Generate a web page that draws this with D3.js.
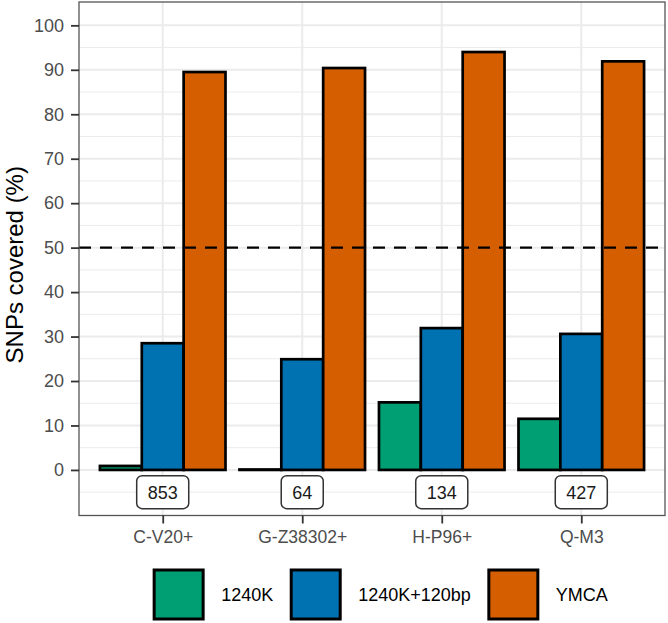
<!DOCTYPE html>
<html>
<head>
<meta charset="utf-8">
<script src="https://cdn.jsdelivr.net/npm/d3@7"></script>
<style>
  html, body { margin: 0; padding: 0; background: #fff; }
  svg { display: block; font-family: "Liberation Sans", Arial, sans-serif; }
</style>
</head>
<body>
<svg id="chart" width="668" height="623"></svg>
<script>
const categories = ["C-V20+", "G-Z38302+", "H-P96+", "Q-M3"];
const seriesNames = ["1240K", "1240K+120bp", "YMCA"];
const values1240K = [0.9, 0.1, 15.2, 11.5];
const values1240K120 = [28.5, 24.9, 31.9, 30.6];
const valuesYMCA = [89.5, 90.4, 94.0, 91.9];
const sampleCounts = [853, 64, 134, 427];
const yTicks = [0, 10, 20, 30, 40, 50, 60, 70, 80, 90, 100];
const yMinorTicks = [-5, 5, 15, 25, 35, 45, 55, 65, 75, 85, 95];
const threshold = 50;
const colors = ["#009E73", "#0072B2", "#D55E00"];

const seriesValues = [values1240K, values1240K120, valuesYMCA];

const svg = d3.select("#chart");
const panel = { left: 79, right: 665, top: 2, bottom: 515.5 };

const y = d3.scaleLinear().domain([-10.25, 105.25]).range([panel.bottom, panel.top]);
const x = d3.scalePoint().domain(categories).range([panel.left, panel.right]).padding(0.6);
const step = x.step();
const xs = d3.scaleBand().domain(seriesNames).range([-0.45 * step, 0.45 * step]).padding(0);
const color = d3.scaleOrdinal().domain(seriesNames).range(colors);

// panel background
svg.append("rect").attr("x", panel.left).attr("y", panel.top)
  .attr("width", panel.right - panel.left).attr("height", panel.bottom - panel.top)
  .attr("fill", "#fff");

// minor grid
svg.append("g").selectAll("line").data(yMinorTicks).join("line")
  .attr("x1", panel.left).attr("x2", panel.right)
  .attr("y1", d => y(d)).attr("y2", d => y(d))
  .attr("stroke", "#ebebeb").attr("stroke-width", 1);
// major grid
svg.append("g").selectAll("line").data(yTicks).join("line")
  .attr("x1", panel.left).attr("x2", panel.right)
  .attr("y1", d => y(d)).attr("y2", d => y(d))
  .attr("stroke", "#ebebeb").attr("stroke-width", 2);
svg.append("g").selectAll("line").data(categories).join("line")
  .attr("x1", d => x(d)).attr("x2", d => x(d))
  .attr("y1", panel.top).attr("y2", panel.bottom)
  .attr("stroke", "#ebebeb").attr("stroke-width", 2);

// bars
const barData = [];
categories.forEach((c, i) => {
  seriesNames.forEach((s, j) => {
    barData.push({ cat: c, series: s, value: seriesValues[j][i] });
  });
});
svg.append("g").selectAll("rect").data(barData).join("rect")
  .attr("x", d => x(d.cat) + xs(d.series))
  .attr("width", xs.bandwidth())
  .attr("y", d => y(d.value))
  .attr("height", d => y(0) - y(d.value))
  .attr("fill", d => color(d.series))
  .attr("stroke", "#000").attr("stroke-width", 2.7);

// threshold line
svg.append("line")
  .attr("x1", panel.left).attr("x2", panel.right)
  .attr("y1", y(threshold)).attr("y2", y(threshold))
  .attr("stroke", "#000").attr("stroke-width", 2.2)
  .attr("stroke-dasharray", "12,9");

// count labels
const labelG = svg.append("g").selectAll("g").data(categories).join("g")
  .attr("transform", d => `translate(${x(d)},${y(-5)})`);
labelG.append("text")
  .attr("text-anchor", "middle").attr("dy", "0.36em")
  .attr("font-size", 18).attr("fill", "#1a1a1a")
  .text((d, i) => sampleCounts[i]);
labelG.each(function() {
  const g = d3.select(this);
  const w = g.select("text").node().getComputedTextLength() + 22;
  g.insert("rect", "text")
    .attr("x", -w / 2).attr("y", -16.5).attr("width", w).attr("height", 33)
    .attr("rx", 5.5).attr("ry", 5.5)
    .attr("fill", "#fff").attr("stroke", "#333").attr("stroke-width", 1.5);
});

// panel border
svg.append("rect").attr("x", panel.left).attr("y", panel.top)
  .attr("width", panel.right - panel.left).attr("height", panel.bottom - panel.top)
  .attr("fill", "none").attr("stroke", "#555").attr("stroke-width", 1.3);

// y axis
const yAxis = d3.axisLeft(y).tickValues(yTicks).tickSize(8).tickPadding(7);
const gy = svg.append("g").attr("transform", `translate(${panel.left},0)`).call(yAxis);
gy.select(".domain").remove();
gy.selectAll(".tick line").attr("stroke", "#333").attr("stroke-width", 1.8);
gy.selectAll(".tick text").attr("fill", "#4d4d4d").attr("font-size", 18)
  .attr("font-family", "Liberation Sans, Arial, sans-serif");

// x axis
const xAxis = d3.axisBottom(x).tickSize(8).tickPadding(7);
const gx = svg.append("g").attr("transform", `translate(0,${panel.bottom})`).call(xAxis);
gx.select(".domain").remove();
gx.selectAll(".tick line").attr("stroke", "#333").attr("stroke-width", 1.8);
gx.selectAll(".tick text").attr("fill", "#4d4d4d").attr("font-size", 17.5)
  .attr("font-family", "Liberation Sans, Arial, sans-serif");

// y title
svg.append("text")
  .attr("transform", `translate(22.5,${(panel.top + panel.bottom) / 2 + 6}) rotate(-90)`)
  .attr("text-anchor", "middle").attr("font-size", 24).attr("fill", "#000")
  .text("SNPs covered (%)");

// legend
const keySize = 49, keyGap = 18, itemGap = 18;
const legend = svg.append("g");
const items = legend.selectAll("g").data(seriesNames).join("g");
items.append("rect")
  .attr("x", 0).attr("y", 0).attr("width", keySize).attr("height", keySize)
  .attr("fill", d => color(d)).attr("stroke", "#000").attr("stroke-width", 3);
items.append("text")
  .attr("x", keySize + keyGap).attr("y", keySize / 2).attr("dy", "0.36em")
  .attr("font-size", 18).attr("fill", "#000").text(d => d);
let cx = 0;
const offsets = [];
items.each(function() {
  const tw = d3.select(this).select("text").node().getComputedTextLength();
  offsets.push(cx);
  cx += keySize + keyGap + tw + itemGap;
});
const totalW = cx - itemGap;
const legendLeft = 381 - totalW / 2;
items.attr("transform", (d, i) => `translate(${legendLeft + offsets[i]},570)`);
</script>
</body>
</html>
